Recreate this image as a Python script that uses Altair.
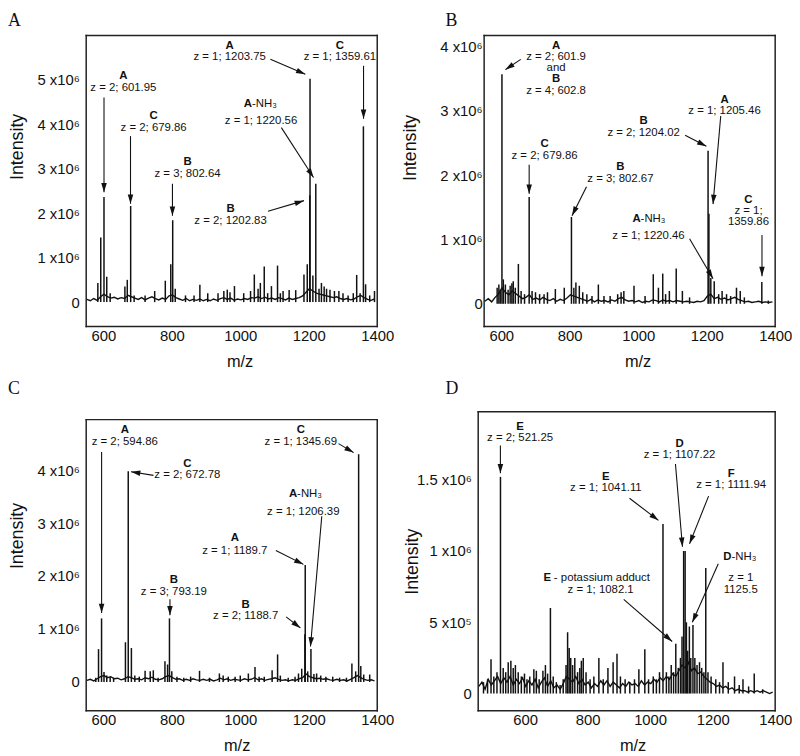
import math
import altair as alt
import pandas as pd

FONT = "Liberation Sans"
SERIF = "Liberation Serif"
INK = "#111111"
W = 294
H = 294
ARROW_PATH = "M0,0L1.25,4.2L-1.25,4.2Z"

X_TICKS = [600, 800, 1000, 1200, 1400]

# ---------------- Panel A ----------------
A_PEAKS = [(584, 0.43), (592.5, 1.45), (601.95, 2.36), (610, 0.57), (620, 0.2), (663, 0.35), (670, 0.5),
           (679.86, 2.16), (690, 0.15), (722, 0.15), (750, 0.25), (781, 0.48), (797, 0.85), (802.64, 1.84),
           (810, 0.3), (840, 0.15), (865, 0.15), (882, 0.39), (905, 0.2), (935, 0.2), (952, 0.25), (962, 0.28),
           (970, 0.22), (983, 0.36), (1010, 0.2), (1030, 0.25), (1041, 0.62), (1052, 0.3), (1058.6, 0.43),
           (1070, 0.8), (1080, 0.2), (1091, 0.36), (1108.8, 0.82), (1117, 0.2), (1125, 0.25), (1142.7, 0.27),
           (1161.9, 0.27), (1186, 0.62), (1195.6, 0.85), (1202.83, 2.4), (1203.75, 5.02), (1212, 0.6),
           (1220.56, 2.66), (1230, 0.3), (1237, 0.43), (1245, 0.35), (1252, 0.3), (1262, 0.28), (1275, 0.25),
           (1288, 0.25), (1300, 0.2), (1315, 0.15), (1330, 0.2), (1340, 0.61), (1350, 0.2), (1359.61, 3.95),
           (1366, 0.4), (1378, 0.15), (1392, 0.25)]
A_BASE_START, A_BASE_STEP = 552, 10
A_BASE = [0.06, 0.03, 0.08, 0.04, 0.12, 0.18, 0.12, 0.09, 0.11, 0.07, 0.10, 0.08, 0.15, 0.12, 0.09,
          0.06, 0.10, 0.05, 0.09, 0.12, 0.08, 0.05, 0.09, 0.06, 0.14, 0.16, 0.10, 0.07, 0.04, 0.08,
          0.03, 0.06, 0.04, 0.07, 0.03, 0.06, 0.03, 0.07, 0.04, 0.08, 0.10, 0.06, 0.09, 0.04, 0.07,
          0.05, 0.08, 0.06, 0.10, 0.09, 0.12, 0.08, 0.11, 0.07, 0.09, 0.06, 0.10, 0.08, 0.05, 0.09,
          0.06, 0.08, 0.10, 0.14, 0.22, 0.30, 0.25, 0.20, 0.18, 0.16, 0.14, 0.12, 0.10, 0.12, 0.08,
          0.06, 0.08, 0.05, 0.07, 0.12, 0.15, 0.10, 0.06, 0.04, 0.07]
A_Y_TICKS = [0, 1, 2, 3, 4, 5]
A_Y_LABELS = ["0", "1 x10⁶", "2 x10⁶", "3 x10⁶", "4 x10⁶", "5 x10⁶"]
A_BOLD = [(658.6, 5.08, "A"), (747.0, 4.18, "C"), (846.0, 3.14, "B"), (969.0, 5.75, "A"),
          (1291.0, 5.76, "C"), (971.6, 2.09, "B")]
A_PLAIN = [(658.6, 4.82, "z = 2; 601.95"), (747.0, 3.91, "z = 2; 679.86"), (846.0, 2.88, "z = 3; 802.64"),
           (969.0, 5.50, "z = 1; 1203.75"), (1291.0, 5.51, "z = 1; 1359.61"), (1060.5, 4.07, "z = 1; 1220.56"),
           (971.6, 1.82, "z = 2; 1202.83")]
# (m/z of bold part's right edge, m/z of plain part's left edge, intensity, bold, plain)
A_SPLIT = [(1034.0, 1034.0, 4.45, "A", "-NH₃")]
A_ARROWS = [(602.0, 4.60, 602.0, 2.47), (679.4, 3.73, 679.4, 2.21), (801.9, 2.66, 801.9, 1.94),
            (1088.0, 5.46, 1190.0, 5.12), (1360.0, 5.31, 1360.0, 4.12), (1120.0, 3.92, 1214.0, 2.80),
            (1081.0, 2.04, 1186.0, 2.28)]

# ---------------- Panel B ----------------
B_PEAKS = [(588, 0.25), (593, 0.3), (597, 0.22), (602, 3.57), (606, 0.38), (612, 0.3), (620, 0.22), (626, 0.28),
           (631, 0.32), (635, 0.35), (641, 0.25), (650, 0.62), (658, 0.2), (668, 0.15), (681.5, 1.66), (690, 0.2),
           (700, 0.18), (712, 0.15), (725, 0.15), (735, 0.18), (758, 0.23), (784, 0.25), (805, 1.35), (812, 0.25),
           (818, 0.33), (828, 0.28), (838, 0.18), (850, 0.15), (865, 0.12), (883.6, 0.3), (900, 0.12),
           (918, 0.12), (940, 0.15), (950, 0.18), (958, 0.2), (987.7, 0.28), (1020, 0.12), (1044, 0.46),
           (1059, 0.25), (1071.6, 0.47), (1080, 0.15), (1091, 0.2), (1111, 0.55), (1129, 0.2), (1150, 0.1),
           (1204.02, 2.38), (1206.5, 1.4), (1212, 0.4), (1222, 0.35), (1235, 0.15), (1245, 0.2), (1258, 0.15),
           (1270, 0.12), (1287, 0.25), (1298, 0.2), (1310, 0.1), (1361, 0.34), (1380, 0.05)]
B_BASE_START, B_BASE_STEP = 552, 10
B_BASE = [0.04, 0.08, 0.03, 0.10, 0.15, 0.25, 0.18, 0.14, 0.20, 0.16, 0.12, 0.08, 0.10, 0.14, 0.07,
          0.09, 0.06, 0.10, 0.07, 0.05, 0.08, 0.04, 0.07, 0.05, 0.09, 0.14, 0.12, 0.10, 0.08, 0.06,
          0.04, 0.07, 0.03, 0.06, 0.04, 0.05, 0.03, 0.06, 0.04, 0.08, 0.10, 0.06, 0.04, 0.05, 0.03,
          0.05, 0.02, 0.04, 0.03, 0.06, 0.05, 0.03, 0.06, 0.04, 0.05, 0.03, 0.05, 0.04, 0.03, 0.04,
          0.03, 0.02, 0.04, 0.03, 0.05, 0.12, 0.15, 0.08, 0.10, 0.07, 0.09, 0.06, 0.08, 0.10, 0.07,
          0.05, 0.03, 0.04, 0.02, 0.03, 0.04, 0.02, 0.03, 0.02, 0.03]
B_Y_TICKS = [0, 1, 2, 3, 4]
B_Y_LABELS = ["0", "1 x10⁶", "2 x10⁶", "3 x10⁶", "4 x10⁶"]
B_BOLD = [(760.0, 4.01, "A"), (760.0, 3.49, "B"), (726.5, 2.48, "C"), (948.0, 2.12, "B"),
          (1015.7, 2.84, "B"), (1252.0, 3.17, "A"), (1322.0, 1.61, "C")]
B_PLAIN = [(760.0, 3.83, "z = 2; 601.9"), (760.0, 3.66, "and"), (760.0, 3.30, "z = 4; 602.8"),
           (726.5, 2.30, "z = 2; 679.86"), (948.0, 1.94, "z = 3; 802.67"), (1015.7, 2.65, "z = 2; 1204.02"),
           (1252.0, 3.00, "z = 1; 1205.46"), (1030.0, 1.05, "z = 1; 1220.46"), (1322.0, 1.44, "z = 1;"),
           (1322.0, 1.27, "1359.86")]
B_SPLIT = [(1007.0, 1007.0, 1.32, "A", "-NH₃")]
B_ARROWS = [(657.0, 3.80, 612.0, 3.64), (681.5, 2.16, 681.5, 1.71), (849.0, 1.82, 806.6, 1.37),
            (1137.0, 2.62, 1199.0, 2.45), (1241.0, 2.92, 1218.5, 1.55), (1150.0, 1.01, 1218.5, 0.39),
            (1361.5, 1.07, 1361.5, 0.43)]

# ---------------- Panel C ----------------
C_PEAKS = [(578, 0.08), (586, 0.62), (594.86, 1.2), (602, 0.19), (610, 0.12), (620, 0.1), (630, 0.08),
           (664.6, 0.75), (672.78, 3.98), (682, 0.64), (692, 0.12), (705, 0.1), (722, 0.21), (737, 0.2),
           (746, 0.22), (760, 0.08), (780, 0.39), (787.7, 0.33), (793.19, 1.2), (800, 0.2), (815, 0.1),
           (835, 0.08), (855, 0.1), (881, 0.21), (910, 0.08), (939, 0.16), (950, 0.12), (965, 0.1), (985, 0.1),
           (1000, 0.12), (1023.6, 0.16), (1043, 0.28), (1055, 0.1), (1070, 0.1), (1093, 0.22), (1109, 0.52),
           (1117, 0.12), (1140, 0.08), (1160, 0.1), (1170, 0.16), (1179.5, 0.25), (1188.7, 0.9),
           (1189.7, 2.21), (1197, 0.2), (1206.39, 0.62), (1215, 0.15), (1223, 0.16), (1235, 0.12),
           (1250, 0.1), (1270, 0.1), (1290, 0.08), (1310, 0.08), (1326, 0.35), (1337, 0.2), (1345.69, 4.3),
           (1352, 0.3), (1360.6, 0.14), (1378, 0.14)]
C_BASE_START, C_BASE_STEP = 552, 10
C_BASE = [0.03, 0.05, 0.02, 0.06, 0.10, 0.12, 0.08, 0.10, 0.06, 0.07, 0.04, 0.06, 0.10, 0.08, 0.05,
          0.06, 0.04, 0.08, 0.06, 0.09, 0.05, 0.04, 0.06, 0.10, 0.12, 0.08, 0.05, 0.06, 0.03, 0.05,
          0.03, 0.06, 0.04, 0.03, 0.05, 0.03, 0.05, 0.02, 0.04, 0.07, 0.04, 0.06, 0.03, 0.05, 0.04,
          0.03, 0.06, 0.04, 0.05, 0.08, 0.04, 0.06, 0.03, 0.05, 0.06, 0.08, 0.05, 0.03, 0.04, 0.02,
          0.04, 0.03, 0.06, 0.08, 0.15, 0.10, 0.08, 0.06, 0.07, 0.05, 0.06, 0.04, 0.03, 0.05, 0.03,
          0.04, 0.02, 0.05, 0.08, 0.12, 0.08, 0.05, 0.03, 0.04, 0.02]
C_Y_TICKS = [0, 1, 2, 3, 4]
C_Y_LABELS = ["0", "1 x10⁶", "2 x10⁶", "3 x10⁶", "4 x10⁶"]
C_BOLD = [(662.6, 4.75, "A"), (845.4, 4.11, "C"), (806.0, 1.92, "B"), (984.0, 2.71, "A"),
          (1015.8, 1.46, "B"), (1176.6, 4.75, "C")]
C_PLAIN = [(662.6, 4.53, "z = 2; 594.86"), (845.4, 3.91, "z = 2; 672.78"), (806.0, 1.70, "z = 3; 793.19"),
           (1184.0, 3.21, "z = 1; 1206.39"), (984.0, 2.47, "z = 1; 1189.7"), (1015.8, 1.25, "z = 2; 1188.7"),
           (1176.6, 4.53, "z = 1; 1345.69")]
C_SPLIT = [(1166.0, 1166.0, 3.55, "A", "-NH₃")]
C_ARROWS = [(595.0, 4.34, 595.0, 1.30), (746.4, 3.90, 681.0, 3.97), (794.6, 1.56, 794.6, 1.26),
            (1238.0, 3.13, 1205.0, 0.67), (1104.0, 2.48, 1184.4, 2.22), (1134.0, 1.23, 1175.6, 1.02),
            (1287.0, 4.50, 1331.0, 4.33)]

# ---------------- Panel D ----------------
D_PEAKS = [(467, 0.08), (480, 0.1), (491, 0.24), (500, 0.12), (510, 0.15), (521.25, 1.52), (530, 0.18),
           (538, 0.15), (546, 0.22), (554.5, 0.23), (562, 0.18), (569, 0.2), (578, 0.15), (588, 0.12),
           (598, 0.14), (606, 0.1), (615, 0.12), (628, 0.17), (636, 0.16), (645, 0.1), (657, 0.16), (665, 0.2),
           (672, 0.14), (681, 0.6), (690, 0.12), (700, 0.08), (712, 0.06), (722, 0.1), (731, 0.2), (736, 0.43),
           (741, 0.32), (746, 0.25), (752, 0.2), (759, 0.25), (768, 0.15), (775, 0.18), (780, 0.23),
           (786, 0.25), (795, 0.15), (808, 0.1), (820, 0.12), (836, 0.25), (850, 0.1), (865, 0.18),
           (881.6, 0.22), (894, 0.28), (905, 0.12), (920, 0.1), (935, 0.08), (950, 0.1), (964, 0.17),
           (983, 0.31), (995, 0.1), (1010, 0.12), (1020, 0.1), (1030, 0.15), (1041.11, 1.19), (1052, 0.15),
           (1060, 0.12), (1067.5, 0.2), (1075, 0.15), (1082.1, 0.35), (1090, 0.18), (1097, 0.25), (1102, 0.4),
           (1107.22, 1.0), (1111.94, 1.0), (1116, 0.5), (1120, 0.3), (1125.5, 0.47), (1130, 0.25),
           (1137, 0.48), (1143, 0.25), (1150, 0.2), (1158, 0.22), (1165, 0.18), (1172, 0.15), (1178, 0.88),
           (1185, 0.15), (1195, 0.12), (1210, 0.1), (1222, 0.08), (1233, 0.22), (1250, 0.08), (1270, 0.12),
           (1285, 0.06), (1297, 0.1), (1315, 0.05), (1333, 0.14), (1360, 0.03)]
D_BASE_START, D_BASE_STEP = 452, 10
D_BASE = [0.05, 0.08, 0.03, 0.10, 0.06, 0.09, 0.12, 0.07, 0.11, 0.08, 0.12, 0.06, 0.10, 0.07, 0.11,
          0.05, 0.09, 0.06, 0.10, 0.04, 0.08, 0.11, 0.05, 0.09, 0.04, 0.06, 0.03, 0.07, 0.12, 0.10,
          0.08, 0.12, 0.07, 0.10, 0.06, 0.08, 0.04, 0.07, 0.05, 0.09, 0.06, 0.09, 0.05, 0.08, 0.06,
          0.04, 0.07, 0.05, 0.08, 0.06, 0.07, 0.05, 0.09, 0.06, 0.08, 0.07, 0.10, 0.08, 0.11, 0.09,
          0.12, 0.10, 0.14, 0.12, 0.16, 0.20, 0.18, 0.22, 0.16, 0.18, 0.14, 0.15, 0.12, 0.10, 0.08,
          0.07, 0.05, 0.06, 0.04, 0.05, 0.03, 0.04, 0.02, 0.03, 0.02, 0.02, 0.01, 0.02, 0.01, 0.02,
          0.01, 0.02, 0.01, 0.00, 0.01]
D_Y_TICKS = [0, 0.5, 1, 1.5]
D_Y_LABELS = ["0", "5 x10⁵", "1 x10⁶", "1.5 x10⁶"]
D_BOLD = [(584.0, 1.87, "E"), (858.5, 1.52, "E"), (1094.0, 1.75, "D"), (1259.0, 1.54, "F")]
D_PLAIN = [(584.0, 1.79, "z = 2; 521.25"), (858.5, 1.44, "z = 1; 1041.11"), (1094.0, 1.67, "z = 1; 1107.22"),
           (1259.0, 1.46, "z = 1; 1111.94"), (1290.0, 0.812, "z = 1"), (1290.0, 0.725, "1125.5"),
           (841.7, 0.725, "z = 1; 1082.1")]
D_SPLIT = [(1260.0, 1260.0, 0.955, "D", "-NH₃"), (683.0, 692.0, 0.81, "E", "- potassium adduct")]
D_ARROWS = [(521.0, 1.74, 521.0, 1.545), (934.0, 1.37, 1026.5, 1.215), (1081.0, 1.61, 1103.4, 1.03),
            (1187.0, 1.385, 1126.0, 1.05), (1218.0, 0.91, 1135.0, 0.50), (915.5, 0.66, 1070.5, 0.365)]

PANELS = [
    dict(letter="A", peaks=A_PEAKS, base=(A_BASE_START, A_BASE_STEP, A_BASE), xdom=[550, 1400],
         ydom=[-0.55, 5.99], frame=([550, 1400], [-0.55, 5.99]), yticks=A_Y_TICKS, ylabels=A_Y_LABELS,
         bold=A_BOLD, plain=A_PLAIN, split=A_SPLIT, arrows=A_ARROWS, ypad=7, ititle=(-69, 112), mzx=155,
         lpos=(-79, -24)),
    dict(letter="B", peaks=B_PEAKS, base=(B_BASE_START, B_BASE_STEP, B_BASE), xdom=[550, 1400],
         ydom=[-0.354, 4.17], frame=([550, 1400], [-0.354, 4.17]), yticks=B_Y_TICKS, ylabels=B_Y_LABELS,
         bold=B_BOLD, plain=B_PLAIN, split=B_SPLIT, arrows=B_ARROWS, ypad=2, ititle=(-74, 113), mzx=155,
         lpos=(-39, -24)),
    dict(letter="C", peaks=C_PEAKS, base=(C_BASE_START, C_BASE_STEP, C_BASE), xdom=[550, 1400],
         ydom=[-0.542, 4.953], frame=([550, 1400], [-0.542, 4.953]), yticks=C_Y_TICKS, ylabels=C_Y_LABELS,
         bold=C_BOLD, plain=C_PLAIN, split=C_SPLIT, arrows=C_ARROWS, ypad=7, ititle=(-69, 117), mzx=152,
         lpos=(-79, -40)),
    dict(letter="D", peaks=D_PEAKS, base=(D_BASE_START, D_BASE_STEP, D_BASE), xdom=[469, 1400],
         ydom=[-0.12, 1.9215], frame=([450, 1400], [-0.12, 1.977]), yticks=D_Y_TICKS, ylabels=D_Y_LABELS,
         bold=D_BOLD, plain=D_PLAIN, split=D_SPLIT, arrows=D_ARROWS, ypad=13, ititle=(-72, 143), mzx=150,
         lpos=(-39, -40)),
]


def label_expr(ticks, labels):
    expr = "''"
    for t, lab in reversed(list(zip(ticks, labels))):
        expr = f"abs(datum.value - {t}) < 1e-6 ? '{lab}' : {expr}"
    return expr


def make_panel(cfg):
    xlo, xhi = cfg["xdom"]
    ylo, yhi = cfg["ydom"]
    kx = W / (xhi - xlo)
    ky = H / (yhi - ylo)
    xs = alt.Scale(domain=[xlo, xhi], nice=False, zero=False)
    ys = alt.Scale(domain=[ylo, yhi], nice=False, zero=False)
    xax = alt.Axis(values=X_TICKS, title="m/z", format="d", labelPadding=2, labelFontSize=15,
                   labelFlush=False, labelOverlap=False, titleX=cfg["mzx"], titleY=35, titleFontSize=16.5,
                   titleAlign="center", titleBaseline="middle")
    yax = alt.Axis(values=cfg["yticks"], labelExpr=label_expr(cfg["yticks"], cfg["ylabels"]),
                   title="Intensity", labelPadding=cfg["ypad"], labelFontSize=15, labelOverlap=False,
                   titleX=cfg["ititle"][0], titleY=cfg["ititle"][1], titleFontSize=18,
                   titleAlign="center", titleBaseline="middle")

    def X(f):
        return alt.X(f, type="quantitative", scale=xs, axis=xax)

    def Y(f):
        return alt.Y(f, type="quantitative", scale=ys, axis=yax)

    # plot frame: four edges from the frame extents
    (fx0, fx1), (fy0, fy1) = cfg["frame"]
    frame_df = pd.DataFrame({
        "xa": [fx0, fx1, fx0, fx0], "xb": [fx0, fx1, fx1, fx1],
        "ya": [fy0, fy0, fy0, fy1], "yb": [fy1, fy1, fy0, fy1],
    })
    frame = alt.Chart(frame_df).mark_rule(color="#222222", strokeWidth=1.5, strokeCap="square").encode(
        x=X("xa"), x2="xb", y=Y("ya"), y2="yb")

    start, step, vals = cfg["base"]
    base_df = pd.DataFrame({"mz": [start + i * step for i in range(len(vals))], "y": vals})
    line = alt.Chart(base_df).mark_line(color=INK, strokeWidth=1.4).encode(x=X("mz"), y=Y("y"))

    peaks_df = pd.DataFrame(cfg["peaks"], columns=["mz", "y"])
    peaks_df["base"] = 0.0
    sticks = alt.Chart(peaks_df).mark_rule(color=INK, strokeWidth=1.5).encode(
        x=X("mz"), y=Y("y"), y2="base")

    arr = pd.DataFrame(cfg["arrows"], columns=["x1", "y1", "x2", "y2"])
    angs = []
    for _, r in arr.iterrows():
        sx = (r.x2 - r.x1) * kx
        sy = -(r.y2 - r.y1) * ky
        angs.append(math.degrees(math.atan2(sx, -sy)) % 360)
    arr["ang"] = angs
    shafts = alt.Chart(arr).mark_rule(color=INK, strokeWidth=1.1).encode(
        x=X("x1"), y=Y("y1"), x2="x2", y2="y2")
    heads = alt.Chart(arr).mark_point(shape=ARROW_PATH, filled=True, size=20, color=INK, opacity=1).encode(
        x=X("x2"), y=Y("y2"), angle=alt.Angle("ang:Q", scale=None))

    bold_df = pd.DataFrame(cfg["bold"], columns=["mz", "y", "t"])
    plain_df = pd.DataFrame(cfg["plain"], columns=["mz", "y", "t"])
    split_df = pd.DataFrame(cfg["split"], columns=["mzb", "mzp", "y", "b", "p"])
    tkw = dict(font=FONT, fontSize=11.5, color=INK, baseline="middle")
    bold = alt.Chart(bold_df).mark_text(fontWeight="bold", align="center", **tkw).encode(
        x=X("mz"), y=Y("y"), text="t:N")
    plain = alt.Chart(plain_df).mark_text(align="center", **tkw).encode(
        x=X("mz"), y=Y("y"), text="t:N")
    split_b = alt.Chart(split_df).mark_text(fontWeight="bold", align="right", **tkw).encode(
        x=X("mzb"), y=Y("y"), text="b:N")
    split_p = alt.Chart(split_df).mark_text(align="left", **tkw).encode(
        x=X("mzp"), y=Y("y"), text="p:N")

    letter = alt.Chart(pd.DataFrame({"t": [cfg["letter"]]})).mark_text(
        font=SERIF, fontSize=18, align="left", baseline="top", color=INK).encode(
        text="t:N", x=alt.value(cfg["lpos"][0]), y=alt.value(cfg["lpos"][1]))

    return alt.layer(frame, line, sticks, shafts, heads, bold, plain, split_b, split_p, letter).properties(
        width=W, height=H)


panels = [make_panel(p) for p in PANELS]

chart = alt.concat(*panels, columns=2, spacing={"row": 94, "column": 108}, bounds="flush").properties(
    padding=0
).configure_view(strokeWidth=0).configure_axis(
    grid=False, domain=False, ticks=False, tickSize=0, labelFont=FONT, titleFont=FONT,
    labelColor=INK, titleColor=INK, titleFontWeight="normal")

chart.save("out.html", embed_options={"renderer": "svg", "actions": False})
